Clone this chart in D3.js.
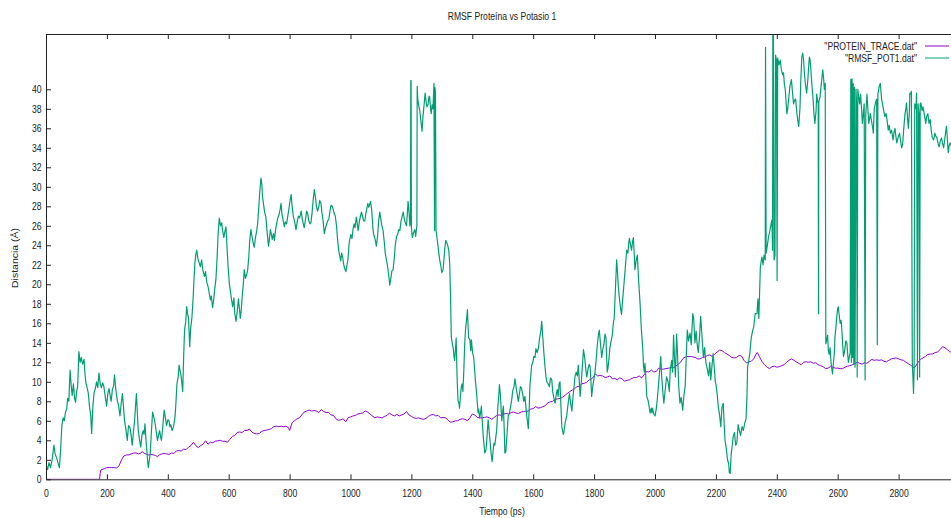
<!DOCTYPE html>
<html>
<head>
<meta charset="utf-8">
<script src="https://cdn.jsdelivr.net/npm/d3@7"></script>
<style>
  html, body { margin: 0; padding: 0; background: #fff; }
  svg { display: block; }
  text { font-family: "Liberation Sans", Arial, sans-serif; fill: #222; }
</style>
</head>
<body>
<svg id="chart" width="951" height="518"></svg>
<script>
// ---- data: [time (ps), distance (Å)] ----
const proteinTrace = [[0,0],[176,0],[178,0.6],[180,0.95],[184,1.0],[192,1.1],[200,1.2],[208,1.2],[216,1.2],[224,1.2],[232,1.15],[240,1.4],[248,2.0],[256,2.4],[264,2.5],[272,2.5],[280,2.6],[288,2.7],[296,2.7],[304,2.6],[312,2.7],[316,2.85],[320,2.7],[328,2.6],[336,2.5],[344,2.55],[352,2.5],[360,2.45],[366,2.3],[372,2.5],[380,2.6],[388,2.65],[396,2.6],[404,2.55],[412,2.7],[420,2.65],[428,2.9],[436,2.95],[444,2.9],[452,3.1],[460,3.05],[468,3.3],[476,3.45],[484,3.8],[492,3.45],[500,3.25],[508,3.45],[516,3.6],[524,3.95],[532,3.6],[540,3.8],[548,3.75],[556,3.9],[564,3.95],[572,4.0],[580,3.9],[588,3.9],[596,3.8],[604,4.1],[612,4.4],[620,4.5],[628,4.8],[636,4.85],[644,4.8],[652,5.0],[660,5.0],[668,5.15],[676,4.85],[684,4.7],[692,4.65],[700,4.7],[708,4.9],[716,5.0],[724,5.05],[732,5.1],[740,5.2],[748,5.4],[756,5.45],[764,5.4],[772,5.45],[780,5.4],[788,5.45],[796,5.3],[800,5.0],[808,5.8],[816,6.0],[824,6.2],[832,6.3],[840,6.6],[848,6.9],[856,7.0],[864,7.1],[872,7.0],[880,7.05],[888,7.0],[896,6.85],[904,7.15],[912,6.95],[920,6.85],[928,6.85],[936,6.6],[944,6.55],[952,6.2],[960,6.05],[968,6.1],[976,6.2],[984,5.9],[992,6.3],[1000,6.4],[1008,6.5],[1016,6.55],[1024,6.7],[1032,6.75],[1040,6.8],[1048,7.0],[1056,6.9],[1064,6.7],[1072,6.5],[1080,6.3],[1088,6.4],[1096,6.35],[1104,6.3],[1112,6.45],[1120,6.55],[1128,6.8],[1136,6.6],[1144,6.5],[1152,6.65],[1160,6.5],[1168,6.6],[1176,6.7],[1184,6.95],[1192,6.6],[1200,6.45],[1208,6.3],[1216,6.25],[1224,6.3],[1232,6.2],[1240,6.15],[1248,6.25],[1256,6.45],[1264,6.6],[1272,6.65],[1280,6.5],[1288,6.55],[1296,6.3],[1304,6.35],[1312,6.3],[1320,6.1],[1328,5.85],[1336,5.9],[1344,6.0],[1352,6.0],[1360,6.15],[1368,6.2],[1376,6.15],[1384,6.0],[1392,6.3],[1400,6.7],[1408,6.6],[1416,6.35],[1424,6.3],[1432,6.3],[1440,6.35],[1448,6.4],[1456,6.3],[1464,6.15],[1472,6.35],[1480,6.55],[1488,6.6],[1496,6.55],[1504,6.7],[1512,6.75],[1520,6.7],[1528,6.85],[1536,6.9],[1544,6.8],[1552,6.75],[1560,6.9],[1568,6.95],[1576,7.0],[1584,7.0],[1592,7.2],[1600,7.25],[1608,7.45],[1616,7.3],[1624,7.35],[1632,7.45],[1640,7.55],[1648,7.85],[1656,7.95],[1664,8.0],[1672,8.2],[1680,8.25],[1688,8.3],[1696,8.4],[1704,8.6],[1712,8.8],[1720,9.0],[1728,9.15],[1736,9.3],[1744,9.5],[1752,9.55],[1760,9.8],[1768,9.85],[1776,9.95],[1784,10.2],[1792,10.3],[1800,10.6],[1804,10.8],[1812,10.6],[1820,10.65],[1828,10.6],[1836,10.45],[1844,10.5],[1852,10.6],[1860,10.3],[1868,10.35],[1876,10.2],[1884,10.4],[1892,10.3],[1900,10.05],[1908,10.15],[1916,10.2],[1924,10.35],[1932,10.45],[1940,10.45],[1948,10.6],[1956,10.4],[1964,10.7],[1972,11.05],[1980,11.0],[1988,11.2],[1996,11.0],[2004,11.05],[2012,11.4],[2020,11.3],[2028,11.3],[2036,11.35],[2044,11.4],[2052,11.45],[2060,11.45],[2068,11.6],[2076,11.8],[2084,12.0],[2092,12.4],[2100,12.55],[2108,12.6],[2116,12.6],[2124,12.55],[2132,12.5],[2140,12.35],[2148,12.35],[2156,12.5],[2164,12.55],[2172,12.7],[2180,12.75],[2188,12.6],[2196,12.85],[2204,13.05],[2212,13.25],[2220,13.2],[2228,13.0],[2236,12.85],[2244,12.7],[2252,12.5],[2260,12.45],[2268,12.5],[2276,12.7],[2284,12.65],[2292,12.2],[2300,11.95],[2308,12.05],[2316,12.1],[2324,12.35],[2332,12.85],[2336,13.0],[2344,12.5],[2352,12.05],[2360,11.75],[2368,11.5],[2376,11.35],[2384,11.55],[2392,11.6],[2400,11.5],[2408,11.55],[2416,11.65],[2424,11.75],[2432,12.0],[2440,12.2],[2448,12.35],[2456,12.2],[2464,12.05],[2472,11.9],[2480,11.75],[2488,12.0],[2496,12.05],[2504,12.0],[2512,12.05],[2520,11.9],[2528,11.95],[2536,11.75],[2544,11.65],[2552,11.55],[2560,11.35],[2568,11.4],[2576,11.55],[2584,11.5],[2592,11.4],[2600,11.4],[2608,11.35],[2616,11.35],[2624,11.5],[2632,11.6],[2640,11.65],[2648,11.75],[2656,11.85],[2664,12.0],[2672,11.9],[2680,11.8],[2688,11.95],[2696,11.9],[2704,12.1],[2712,12.3],[2720,12.2],[2728,12.25],[2736,12.2],[2744,12.25],[2752,12.1],[2760,12.05],[2768,12.2],[2776,12.35],[2784,12.4],[2792,12.45],[2800,12.35],[2808,12.25],[2816,12.2],[2824,12.0],[2832,11.85],[2840,11.7],[2848,11.5],[2852,11.45],[2856,11.6],[2864,12.0],[2872,12.3],[2880,12.45],[2888,12.6],[2896,12.8],[2904,12.85],[2912,12.85],[2920,13.0],[2928,13.05],[2936,13.3],[2944,13.6],[2952,13.5],[2960,13.3],[2968,13.1],[2976,12.95]];

const rmsfPot1 = [[0,1.5],[5,1.0],[10,1.7],[15,1.2],[20,2.0],[26,3.5],[30,2.6],[35,2.2],[40,1.6],[44,1.2],[48,3.0],[52,5.5],[56,6.3],[60,6.0],[64,6.9],[68,7.2],[71,8.3],[75,8.0],[79,11.2],[83,9.5],[86,8.6],[90,9.8],[94,8.3],[97,7.9],[101,9.1],[104,9.5],[108,13.1],[112,12.0],[116,12.5],[120,11.8],[125,12.3],[128,10.8],[131,9.9],[135,9.4],[139,8.8],[143,7.4],[147,6.5],[150,4.7],[154,7.5],[158,8.9],[162,9.3],[166,10.0],[170,9.4],[174,10.9],[178,9.8],[182,9.4],[186,9.9],[190,9.5],[194,8.6],[199,7.5],[203,8.8],[207,9.3],[211,8.5],[214,8.0],[218,9.2],[222,9.6],[225,10.7],[229,9.3],[234,8.1],[238,7.6],[243,6.5],[247,7.8],[251,8.8],[255,7.2],[258,6.0],[262,5.2],[267,4.0],[271,5.5],[276,5.3],[280,4.4],[283,3.5],[287,4.8],[291,6.0],[294,7.5],[297,8.8],[300,6.8],[303,5.0],[307,4.1],[311,3.3],[315,4.5],[319,5.0],[322,4.6],[325,5.7],[328,4.2],[331,3.0],[334,1.8],[336,1.2],[339,1.9],[342,2.5],[346,4.8],[350,6.9],[354,6.4],[358,5.8],[362,4.9],[366,4.0],[370,4.6],[373,5.0],[376,4.4],[379,4.0],[383,5.2],[388,7.1],[392,6.3],[396,5.5],[400,6.1],[404,6.0],[407,5.4],[410,5.6],[414,5.0],[418,5.3],[421,5.8],[424,6.5],[427,8.0],[430,9.8],[434,10.5],[437,11.7],[441,11.0],[444,10.5],[447,9.6],[449,9.0],[452,12.5],[455,15.3],[459,16.2],[462,17.7],[465,17.0],[468,16.5],[472,13.6],[475,15.5],[479,16.5],[483,18.5],[486,20.5],[489,22.2],[492,23.0],[495,23.5],[499,22.6],[503,22.2],[507,21.8],[511,22.5],[515,21.5],[520,20.8],[524,21.3],[528,20.2],[532,19.8],[536,19.1],[540,18.4],[543,18.8],[547,17.6],[551,18.5],[554,19.5],[558,20.5],[562,22.8],[565,25.0],[569,26.8],[573,26.0],[577,26.3],[580,25.5],[584,24.8],[588,25.5],[591,25.9],[595,23.5],[598,21.8],[602,20.1],[606,19.2],[609,18.5],[613,17.7],[617,18.6],[620,17.0],[624,16.2],[628,17.2],[632,18.5],[635,17.6],[638,16.5],[641,17.3],[645,19.0],[648,20.0],[651,21.5],[655,20.6],[659,21.0],[662,21.4],[666,22.8],[669,24.5],[673,25.6],[677,24.8],[680,24.3],[684,23.8],[688,24.8],[692,25.5],[695,26.2],[699,28.0],[702,29.5],[706,30.9],[709,30.2],[711,29.0],[714,28.3],[718,27.4],[722,26.9],[726,25.4],[729,24.4],[731,23.9],[734,24.8],[737,25.6],[739,25.3],[743,24.6],[747,25.2],[750,24.5],[754,25.6],[758,26.3],[761,26.8],[765,27.1],[769,27.7],[772,28.3],[775,27.2],[779,26.5],[783,25.9],[786,26.4],[790,26.2],[794,27.0],[798,27.8],[801,28.5],[805,29.2],[808,28.1],[812,27.0],[816,26.5],[819,26.0],[821,25.6],[825,26.4],[829,27.0],[833,26.8],[838,27.5],[842,26.6],[845,26.2],[848,25.8],[852,26.6],[856,27.5],[859,27.3],[863,26.5],[867,26.2],[870,26.3],[874,27.4],[877,28.5],[881,29.7],[885,28.9],[888,28.0],[892,27.5],[896,28.0],[899,28.6],[903,28.3],[906,27.4],[910,26.5],[914,25.2],[918,25.8],[921,26.1],[925,26.5],[929,26.7],[932,27.4],[936,28.1],[940,28.0],[944,27.6],[947,27.2],[950,27.0],[954,26.0],[957,24.8],[961,23.5],[964,23.0],[968,22.4],[971,23.2],[974,22.8],[978,22.0],[981,21.6],[985,21.3],[988,21.9],[992,22.6],[995,24.0],[997,24.5],[1001,25.1],[1005,24.7],[1008,25.6],[1012,26.2],[1015,25.8],[1019,26.9],[1022,26.3],[1025,25.5],[1029,26.4],[1032,26.9],[1036,27.4],[1040,26.9],[1043,26.5],[1047,26.5],[1050,27.2],[1054,27.8],[1057,28.3],[1060,27.9],[1063,28.2],[1066,28.5],[1070,27.5],[1074,25.6],[1077,25.0],[1081,24.6],[1085,23.9],[1089,25.0],[1092,26.3],[1096,27.4],[1100,26.6],[1103,26.0],[1107,25.5],[1111,24.3],[1114,23.2],[1118,22.5],[1122,21.8],[1126,20.8],[1129,19.9],[1133,20.7],[1136,21.4],[1140,21.5],[1144,22.8],[1147,24.0],[1151,24.9],[1155,25.1],[1158,25.6],[1162,25.5],[1166,26.5],[1169,26.9],[1173,27.4],[1176,26.8],[1180,26.3],[1184,26.0],[1187,27.4],[1189,28.5],[1192,27.5],[1195,26.0],[1197,26.4],[1198,40.9],[1199,40.9],[1200,25.8],[1203,24.8],[1207,25.3],[1211,25.6],[1214,24.9],[1216,25.5],[1218,26.0],[1219,40.3],[1221,39.0],[1224,38.3],[1227,37.9],[1231,36.8],[1235,35.7],[1238,37.2],[1242,38.5],[1245,39.6],[1248,38.8],[1251,38.2],[1255,38.5],[1258,39.3],[1260,39.2],[1263,38.0],[1265,37.5],[1268,38.4],[1271,38.0],[1274,40.6],[1276,25.5],[1277,40.2],[1279,39.8],[1281,25.5],[1284,24.8],[1287,24.0],[1290,23.2],[1293,22.5],[1297,21.8],[1300,21.2],[1304,21.5],[1307,22.6],[1310,23.8],[1313,24.5],[1317,24.2],[1320,23.9],[1323,23.4],[1326,22.0],[1329,18.0],[1331,14.6],[1334,14.0],[1337,13.5],[1340,12.6],[1342,12.2],[1345,13.5],[1347,14.5],[1350,10.5],[1353,8.1],[1356,7.8],[1358,7.3],[1361,8.5],[1364,9.5],[1367,9.8],[1369,9.0],[1372,11.0],[1375,13.8],[1378,15.5],[1381,16.3],[1384,17.4],[1386,15.8],[1388,14.5],[1392,14.3],[1395,13.2],[1397,14.3],[1401,13.0],[1404,12.6],[1406,12.0],[1410,10.2],[1413,9.2],[1416,8.0],[1419,6.8],[1421,7.2],[1424,6.3],[1427,6.8],[1430,7.5],[1433,5.8],[1436,4.4],[1439,3.3],[1441,2.7],[1445,3.0],[1448,4.2],[1452,6.1],[1455,5.0],[1458,4.0],[1462,2.6],[1465,1.8],[1468,2.8],[1471,3.7],[1474,3.5],[1477,4.3],[1480,5.0],[1484,7.5],[1487,8.6],[1489,9.7],[1492,8.8],[1495,7.0],[1497,6.0],[1500,7.0],[1502,7.5],[1505,5.0],[1507,2.7],[1510,2.8],[1514,4.6],[1518,6.5],[1522,6.8],[1526,7.5],[1530,8.3],[1533,9.1],[1537,9.5],[1540,10.3],[1544,9.4],[1548,8.6],[1551,8.0],[1555,8.8],[1558,9.5],[1562,9.3],[1566,8.6],[1569,8.0],[1573,8.5],[1576,7.4],[1580,6.2],[1584,5.2],[1587,7.3],[1589,9.5],[1592,10.6],[1595,11.7],[1599,12.0],[1602,12.6],[1606,12.5],[1609,13.4],[1613,13.0],[1617,13.4],[1621,14.5],[1625,15.2],[1628,16.2],[1631,14.8],[1635,13.0],[1638,11.8],[1642,10.5],[1645,10.0],[1649,9.8],[1653,9.5],[1657,10.4],[1661,10.2],[1664,9.0],[1668,8.3],[1672,7.8],[1675,8.6],[1679,9.2],[1682,8.5],[1685,9.8],[1688,10.0],[1691,7.5],[1694,5.4],[1697,4.9],[1699,4.6],[1701,4.9],[1705,5.8],[1710,6.5],[1714,7.6],[1719,8.8],[1723,7.8],[1727,7.0],[1731,8.6],[1734,9.4],[1737,10.5],[1741,11.0],[1745,10.6],[1748,11.7],[1751,10.3],[1754,8.5],[1758,10.0],[1762,11.8],[1765,13.3],[1769,12.5],[1773,11.2],[1776,10.5],[1780,11.3],[1784,11.8],[1787,11.5],[1790,9.8],[1792,8.5],[1796,9.6],[1800,10.4],[1803,11.0],[1807,12.3],[1810,13.6],[1814,14.8],[1817,15.3],[1821,13.9],[1825,12.5],[1829,13.4],[1832,13.8],[1836,14.9],[1839,14.5],[1843,11.0],[1846,11.5],[1850,12.8],[1852,13.5],[1856,14.2],[1860,14.8],[1863,16.0],[1866,16.5],[1870,19.5],[1874,22.5],[1877,21.2],[1879,20.0],[1883,18.6],[1887,17.5],[1890,16.9],[1894,18.5],[1898,20.0],[1902,21.5],[1907,23.5],[1911,23.2],[1914,24.3],[1916,24.7],[1920,24.0],[1923,23.5],[1926,24.3],[1929,24.8],[1932,23.0],[1934,21.5],[1938,22.4],[1942,23.0],[1946,20.5],[1951,18.0],[1955,15.5],[1960,13.3],[1962,11.7],[1965,11.0],[1967,11.9],[1971,9.8],[1973,8.5],[1978,8.0],[1981,7.4],[1984,6.8],[1988,7.3],[1990,6.8],[1992,7.3],[1996,6.7],[2000,6.5],[2004,7.2],[2007,8.0],[2011,9.5],[2015,11.0],[2019,12.6],[2022,10.5],[2027,8.5],[2029,7.8],[2033,9.0],[2038,10.5],[2043,10.0],[2047,9.0],[2050,11.2],[2055,12.2],[2058,11.0],[2061,14.8],[2064,12.5],[2067,10.5],[2071,14.9],[2075,12.0],[2078,9.5],[2082,7.8],[2086,8.4],[2091,7.1],[2095,8.6],[2099,9.5],[2102,12.0],[2106,15.3],[2110,14.2],[2115,15.0],[2119,13.8],[2124,17.0],[2127,16.5],[2131,14.0],[2135,15.2],[2138,14.0],[2142,13.0],[2146,14.5],[2150,16.7],[2154,14.8],[2159,12.5],[2163,13.5],[2167,12.0],[2171,11.4],[2176,10.6],[2180,12.0],[2183,10.2],[2187,11.6],[2191,12.9],[2195,11.3],[2198,10.0],[2200,9.8],[2204,8.8],[2208,7.4],[2212,6.6],[2216,5.4],[2220,7.4],[2224,7.8],[2227,5.8],[2230,4.0],[2234,3.2],[2238,2.0],[2242,1.6],[2244,0.7],[2247,0.6],[2250,2.5],[2254,3.6],[2257,4.4],[2261,4.8],[2265,3.5],[2269,3.8],[2273,5.6],[2277,5.0],[2281,4.5],[2286,5.4],[2290,5.0],[2295,5.8],[2299,6.2],[2302,8.5],[2304,11.5],[2308,12.2],[2312,13.1],[2316,14.5],[2321,15.3],[2324,15.6],[2329,17.0],[2335,17.0],[2338,18.5],[2341,16.5],[2346,21.8],[2351,22.8],[2355,22.0],[2358,23.0],[2362,22.5],[2363,44.3],[2365,23.2],[2369,24.0],[2373,24.9],[2376,25.3],[2380,26.0],[2384,26.6],[2386,23.5],[2387,45.7],[2389,45.7],[2391,22.5],[2394,23.0],[2396,43.5],[2399,43.0],[2401,20.4],[2403,43.2],[2407,42.5],[2411,43.0],[2415,42.0],[2419,41.5],[2422,41.7],[2425,40.5],[2428,39.9],[2431,38.5],[2433,37.5],[2436,38.0],[2439,39.0],[2443,40.3],[2448,41.0],[2452,39.5],[2455,38.5],[2459,38.9],[2462,39.0],[2466,37.5],[2469,36.8],[2472,36.2],[2476,38.0],[2479,41.0],[2482,43.3],[2485,43.7],[2488,43.0],[2491,41.5],[2494,40.5],[2498,39.6],[2502,41.0],[2505,42.5],[2507,43.3],[2509,43.1],[2512,42.0],[2515,40.6],[2519,39.0],[2522,37.5],[2525,36.5],[2529,37.8],[2531,39.5],[2534,38.8],[2536,38.5],[2537,17.0],[2538,38.7],[2542,39.2],[2546,40.5],[2551,42.0],[2554,41.0],[2556,40.0],[2559,40.6],[2561,13.9],[2564,14.3],[2567,14.8],[2569,13.3],[2572,12.8],[2575,13.5],[2578,12.0],[2580,11.5],[2583,10.8],[2586,11.9],[2589,13.0],[2591,14.6],[2594,15.5],[2597,16.7],[2600,17.5],[2602,17.7],[2605,16.8],[2608,16.0],[2611,16.3],[2613,15.7],[2616,14.0],[2619,12.6],[2622,13.0],[2624,13.5],[2627,14.2],[2630,14.0],[2633,12.8],[2635,12.0],[2638,12.5],[2641,13.0],[2643,41.0],[2645,12.0],[2647,41.1],[2649,12.5],[2651,40.6],[2653,11.8],[2655,40.2],[2657,11.5],[2660,40.0],[2662,38.5],[2664,10.5],[2666,40.0],[2669,39.2],[2672,38.5],[2675,39.5],[2678,38.2],[2681,36.5],[2684,37.5],[2687,38.5],[2690,10.2],[2692,37.2],[2696,39.5],[2699,38.0],[2702,36.5],[2705,37.0],[2707,37.5],[2711,36.8],[2715,36.0],[2717,35.5],[2720,38.0],[2724,38.6],[2728,39.0],[2730,13.8],[2732,39.5],[2737,40.4],[2740,40.6],[2744,39.0],[2747,38.5],[2750,38.0],[2755,37.2],[2759,37.5],[2763,36.6],[2766,35.8],[2769,36.3],[2773,35.5],[2777,35.8],[2782,34.8],[2785,35.6],[2788,36.0],[2791,35.2],[2794,34.5],[2798,35.0],[2803,35.5],[2806,34.8],[2810,34.0],[2813,34.3],[2817,36.0],[2821,37.5],[2824,38.0],[2826,38.6],[2829,37.2],[2832,36.0],[2835,37.4],[2837,39.6],[2840,39.5],[2842,39.8],[2845,12.0],[2847,10.5],[2849,8.8],[2851,11.5],[2853,38.5],[2857,38.0],[2859,39.6],[2862,10.2],[2864,38.5],[2867,37.5],[2869,10.5],[2871,38.5],[2873,38.6],[2877,37.8],[2880,38.2],[2884,37.5],[2889,36.5],[2892,37.2],[2896,37.5],[2900,36.5],[2904,36.9],[2907,35.8],[2911,35.0],[2915,34.8],[2919,35.5],[2922,35.2],[2926,35.0],[2930,34.4],[2933,34.1],[2937,34.7],[2941,35.0],[2944,34.5],[2948,34.0],[2952,35.0],[2957,36.2],[2960,35.0],[2963,33.5],[2966,34.2],[2969,34.5],[2975,34.1]];

// ---- axes, labels ----
const xTicks = d3.range(0, 2801, 200);
const yTicks = d3.range(0, 41, 2);
const titleText = "RMSF Proteína vs Potasio 1";
const xLabel = "Tiempo (ps)";
const yLabel = "Distancia (Å)";
const seriesNames = ['"PROTEIN_TRACE.dat"', '"RMSF_POT1.dat"'];
const seriesColors = ["#9400d3", "#009e73"];

// ---- layout ----
const svg = d3.select("#chart");
const plot = { left: 46, top: 34, right: 959.5, bottom: 479.3 };
const fontSize = 10.5;
const squeeze = 0.82; // narrow glyph width used throughout the figure

const x = d3.scaleLinear().domain([0, 3000]).range([plot.left, plot.right]);
const y = d3.scaleLinear().domain([0, 45.67]).range([plot.bottom, plot.top]);

svg.append("defs").append("clipPath").attr("id", "plotClip")
  .append("rect")
  .attr("x", plot.left).attr("y", plot.top)
  .attr("width", plot.right - plot.left).attr("height", plot.bottom - plot.top);

// free-standing text with the narrow glyph transform
function label(px, py, str, anchor, rotate) {
  const g = svg.append("g")
    .attr("transform", `translate(${px},${py}) scale(${squeeze},1)` + (rotate ? ` rotate(${rotate})` : ""));
  g.append("text")
    .attr("text-anchor", anchor)
    .attr("dominant-baseline", "central")
    .style("font-size", fontSize + "px")
    .text(str);
  return g;
}

// ---- series lines ----
const line = d3.line().x(d => x(d[0])).y(d => y(d[1]));
const lines = svg.append("g").attr("clip-path", "url(#plotClip)");
const widths = [1, 1.2];
[proteinTrace, rmsfPot1].forEach((series, i) => {
  lines.append("path")
    .datum(series)
    .attr("fill", "none")
    .attr("stroke", seriesColors[i])
    .attr("stroke-width", widths[i])
    .attr("stroke-linejoin", "round")
    .attr("d", line);
});

// ---- axes (ticks drawn inward, mirrored on top) ----
const axisColor = "#222";
const tickFmt = d3.format("d");
const xAxis = svg.append("g")
  .attr("transform", `translate(0,${plot.bottom})`)
  .call(d3.axisBottom(x).tickValues(xTicks).tickFormat(tickFmt)
    .tickSizeInner(-5).tickSizeOuter(0).tickPadding(10));
xAxis.selectAll("text")
  .attr("transform", `scale(${squeeze},1)`)
  .style("font-size", fontSize + "px");

const xAxisTop = svg.append("g")
  .attr("transform", `translate(0,${plot.top})`)
  .call(d3.axisTop(x).tickValues(xTicks).tickSizeInner(-5).tickSizeOuter(0).tickFormat(""));

const yAxis = svg.append("g")
  .attr("transform", `translate(${plot.left},0)`)
  .call(d3.axisLeft(y).tickValues(yTicks).tickFormat(tickFmt)
    .tickSizeInner(-5).tickSizeOuter(0).tickPadding(4.5));
yAxis.selectAll("text")
  .attr("x", -4.5 / squeeze)
  .attr("transform", `scale(${squeeze},1)`)
  .style("font-size", fontSize + "px");

[xAxis, xAxisTop, yAxis].forEach(a => {
  a.selectAll("path, line").attr("stroke", axisColor);
  a.selectAll("text").style("fill", "#222").style("font-family", '"Liberation Sans", Arial, sans-serif');
});

// right border (mirror of the left axis line)
svg.append("line")
  .attr("x1", plot.right).attr("x2", plot.right)
  .attr("y1", plot.top).attr("y2", plot.bottom)
  .attr("stroke", axisColor);

// ---- titles ----
label(502, 16, titleText, "middle");
label(502, 511, xLabel, "middle");
label(15, 258, yLabel, "middle", -90);

// ---- legend ----
const legendRows = [46, 58];
seriesNames.forEach((name, i) => {
  label(917, legendRows[i], name, "end");
  svg.append("line")
    .attr("x1", 925).attr("x2", 949)
    .attr("y1", legendRows[i]).attr("y2", legendRows[i])
    .attr("stroke", seriesColors[i])
    .attr("stroke-width", 1);
});
</script>
</body>
</html>
